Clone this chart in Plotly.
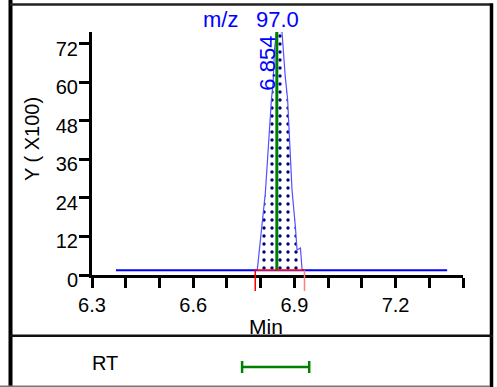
import plotly.graph_objects as go

# ---- data ----
mz_label = "97.0"
apex_label = "6.854"
apex_line_x = 6.848          # position of green apex marker (min)
apex_line_top = 75.6         # top of green marker (x100)

baseline_x = [6.371, 7.353]
baseline_y = [1.5, 1.5]

peak_x = [6.790, 6.802, 6.809, 6.814, 6.832, 6.837, 6.841, 6.847, 6.852, 6.858,
          6.863, 6.867, 6.873, 6.880, 6.886, 6.893, 6.903, 6.908, 6.918, 6.923]
peak_y = [1.5, 14.0, 19.3, 25.6, 54.6, 59.9, 70.1, 75.7, 76.7, 75.7,
          76.1, 70.1, 61.7, 54.6, 39.0, 26.5, 15.0, 7.8, 8.4, 1.5]

integ_start = 6.784
integ_end = 6.930

rt_window = [6.745, 6.944]

x_ticks = [6.3, 6.6, 6.9, 7.2]
x_tick_text = ["6.3", "6.6", "6.9", "7.2"]
y_ticks = [0, 12, 24, 36, 48, 60, 72]
y_tick_text = ["0", "12", "24", "36", "48", "60", "72"]
x_range = [6.3, 7.4]
y_range = [0, 75.6]

# ---- layout constants ----
W, H = 497, 387
FONT = "Liberation Sans, Arial, sans-serif"
BLUE = "#0000ff"
GREEN = "#008000"

def px(x):
    return x / W

def py(y):
    return 1 - y / H

x_dom = [px(92), px(463)]

fig = go.Figure()

# baseline
fig.add_trace(go.Scatter(x=baseline_x, y=baseline_y, mode="lines",
                         line=dict(color=BLUE, width=2), xaxis="x", yaxis="y",
                         hoverinfo="skip"))
# peak with dotted fill
fig.add_trace(go.Scatter(x=peak_x, y=peak_y, mode="lines", fill="toself",
                         fillcolor="white",
                         fillpattern=dict(shape=".", fgcolor="#000080", bgcolor="white",
                                          size=8, solidity=0.14, fillmode="replace"),
                         line=dict(color="#5050ff", width=1.2),
                         xaxis="x", yaxis="y", hoverinfo="skip"))
# apex marker
fig.add_trace(go.Scatter(x=[apex_line_x, apex_line_x], y=[baseline_y[0], apex_line_top],
                         mode="lines", line=dict(color=GREEN, width=3),
                         xaxis="x", yaxis="y", hoverinfo="skip"))

# integration limits (subplot 2)
fig.add_trace(go.Scatter(x=[integ_start, integ_start], y=[0, 1], mode="lines",
                         line=dict(color="#ff0000", width=1.5), xaxis="x2", yaxis="y2",
                         hoverinfo="skip"))
fig.add_trace(go.Scatter(x=[integ_end, integ_end], y=[0, 1], mode="lines",
                         line=dict(color="#ff7f7f", width=1.5), xaxis="x2", yaxis="y2",
                         hoverinfo="skip"))
fig.add_trace(go.Scatter(x=[integ_start, integ_end], y=[1, 1], mode="lines",
                         line=dict(color="#ff0000", width=1.5), xaxis="x2", yaxis="y2",
                         hoverinfo="skip"))

# RT window (subplot 3)
rt_center = (rt_window[0] + rt_window[1]) / 2
rt_half = (rt_window[1] - rt_window[0]) / 2
fig.add_trace(go.Scatter(x=[rt_center], y=[0], mode="markers",
                         marker=dict(size=1, color="rgba(0,0,0,0)"),
                         error_x=dict(type="data", array=[rt_half], arrayminus=[rt_half],
                                      symmetric=False, color=GREEN, thickness=2.5, width=6),
                         xaxis="x3", yaxis="y3", hoverinfo="skip"))

axis_common = dict(showgrid=False, zeroline=False, fixedrange=True, automargin=False)

fig.update_layout(
    width=W, height=H, autosize=False,
    margin=dict(l=0, r=0, t=0, b=0, pad=0, autoexpand=False),
    paper_bgcolor="white", plot_bgcolor="rgba(0,0,0,0)",
    showlegend=False, hovermode=False,
    font=dict(family=FONT, color="black", size=20),
    xaxis=dict(domain=x_dom, range=x_range, anchor="y",
               showline=True, linecolor="black", linewidth=3,
               ticks="outside", ticklen=10, tickwidth=3, tickcolor="black",
               tickvals=x_ticks, ticktext=x_tick_text,
               tickfont=dict(size=20, family=FONT, color="black"),
               minor=dict(dtick=0.1, tick0=6.3, ticks="outside", ticklen=10,
                          tickwidth=3, tickcolor="black", showgrid=False),
               **axis_common),
    yaxis=dict(domain=[py(275), py(32)], range=y_range, anchor="x",
               showline=True, linecolor="black", linewidth=3,
               ticks="outside", ticklen=10, tickwidth=3, tickcolor="black",
               tickvals=y_ticks, ticktext=y_tick_text,
               tickfont=dict(size=20, family=FONT, color="black"),
               ticklabelstandoff=-3, ticklabelshift=5,
               **axis_common),
    xaxis2=dict(domain=x_dom, range=x_range, anchor="y2", visible=False, **axis_common),
    yaxis2=dict(domain=[py(293), py(264)], range=[-2 / 21, 1 + 6 / 21], anchor="x2",
                visible=False, **axis_common),
    xaxis3=dict(domain=x_dom, range=x_range, anchor="y3", visible=False, **axis_common),
    yaxis3=dict(domain=[py(387), py(347)], range=[-1, 1], anchor="x3",
                visible=False, **axis_common),
)

# frame lines
frame = [
    dict(x0=px(10.5), x1=px(10.5), y0=0, y1=1, width=4, color="black"),
    dict(x0=px(10), x1=px(493), y0=py(4.5), y1=py(4.5), width=2.5, color="#222222"),
    dict(x0=px(491.5), x1=px(491.5), y0=0, y1=py(3.5), width=3.5, color="black"),
    dict(x0=px(10), x1=px(493), y0=py(335.7), y1=py(335.7), width=2.5, color="#111111"),
    dict(x0=0, x1=px(490), y0=py(386.3), y1=py(386.3), width=1.5, color="#777777"),
]
for f in frame:
    fig.add_shape(type="line", xref="paper", yref="paper",
                  x0=f["x0"], x1=f["x1"], y0=f["y0"], y1=f["y1"],
                  line=dict(color=f["color"], width=f["width"]), layer="above")

ann = [
    dict(text="m/z", x=px(220), y=py(19), xref="paper", yref="paper",
         font=dict(size=22, color=BLUE, family=FONT)),
    dict(text=mz_label, x=px(277), y=py(19), xref="paper", yref="paper",
         font=dict(size=22, color=BLUE, family=FONT)),
    dict(text="Y ( X100)", x=px(32), y=py(139), xref="paper", yref="paper",
         textangle=-90, font=dict(size=20, color="black", family=FONT)),
    dict(text="Min", x=px(266), y=py(326), xref="paper", yref="paper",
         font=dict(size=21, color="black", family=FONT)),
    dict(text="RT", x=px(105), y=py(363), xref="paper", yref="paper",
         font=dict(size=20, color="black", family=FONT)),
]
for a in ann:
    fig.add_annotation(showarrow=False, xanchor="center", yanchor="middle", **a)

fig.add_annotation(text=apex_label, x=apex_line_x, y=66, xref="x", yref="y",
                   xshift=-9, textangle=-90, showarrow=False,
                   xanchor="center", yanchor="middle",
                   font=dict(size=22, color=BLUE, family=FONT))

fig.write_html("out.html",
               config={"displayModeBar": False, "staticPlot": True},
               post_script="document.body.style.margin='0px';"
                           "document.body.style.overflow='hidden';")
